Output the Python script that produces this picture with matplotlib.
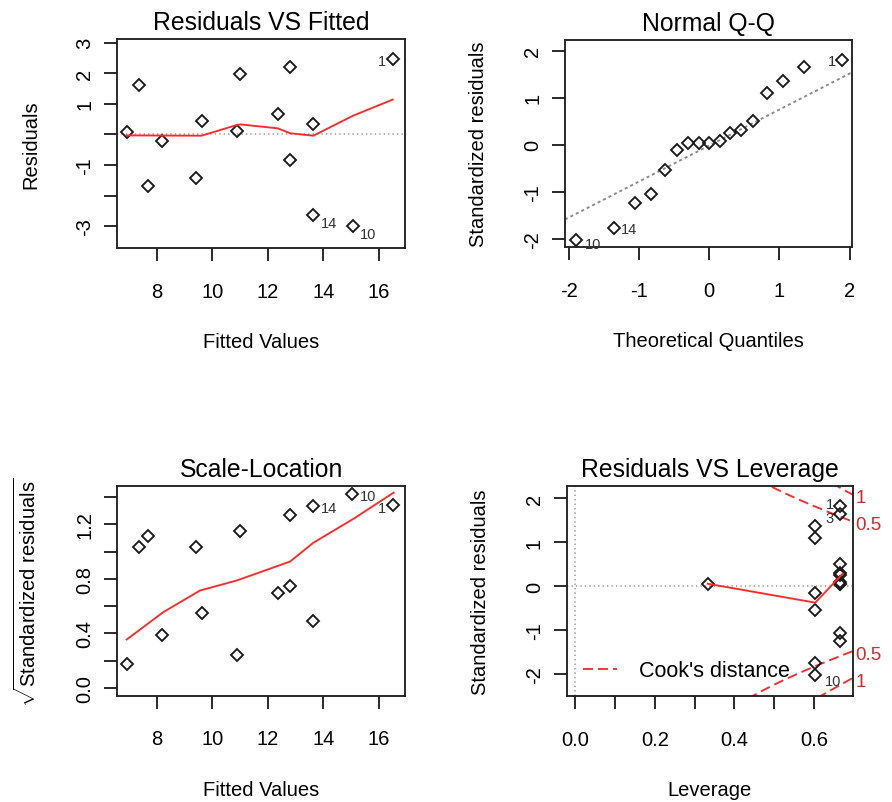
import numpy as np
import matplotlib
matplotlib.use('Agg')
import matplotlib.pyplot as plt
from matplotlib.lines import Line2D

plt.rcParams['font.family'] = ['Liberation Sans', 'DejaVu Sans']
plt.rcParams['mathtext.fontset'] = 'custom'
plt.rcParams['mathtext.rm'] = 'Liberation Sans'
plt.rcParams['mathtext.it'] = 'Liberation Sans:italic'
plt.rcParams['mathtext.bf'] = 'Liberation Sans:bold'
plt.rcParams['lines.scale_dashes'] = False

# ---------------- data ----------------
# Residuals vs Fitted
rvf_fitted = [6.91, 7.36, 7.69, 8.18, 9.41, 9.61, 10.88, 11.00, 12.36, 12.80, 12.80, 13.64, 13.64, 15.06, 16.50]
rvf_resid = [0.07, 1.62, -1.67, -0.20, -1.41, 0.44, 0.12, 1.98, 0.66, 2.20, -0.83, 0.34, -2.63, -3.00, 2.47]
rvf_ids = ['', '', '', '', '', '', '', '', '', '', '', '', '14', '10', '1']
rvf_smooth_x = [6.91, 9.61, 10.88, 11.00, 12.36, 12.80, 13.64, 15.06, 16.50]
rvf_smooth_y = [-0.03, -0.04, 0.31, 0.33, 0.20, 0.04, -0.04, 0.61, 1.14]

# Normal Q-Q
qq_theoretical = [-1.89, -1.35, -1.05, -0.82, -0.63, -0.46, -0.30, -0.15, 0.00,
                  0.15, 0.30, 0.46, 0.63, 0.82, 1.05, 1.35, 1.89]
qq_sample = [-2.01, -1.77, -1.23, -1.04, -0.53, -0.11, 0.05, 0.05, 0.05,
             0.09, 0.26, 0.32, 0.50, 1.09, 1.36, 1.65, 1.81]
qq_ids = ['10', '14'] + [''] * 14 + ['1']

# Scale-Location
sl_fitted = [6.91, 7.36, 7.69, 8.18, 9.41, 9.61, 10.88, 11.00, 12.36, 12.80, 12.80, 13.64, 13.64, 15.03, 16.50]
sl_sqrt_std = [0.176, 1.03, 1.114, 0.389, 1.03, 0.546, 0.244, 1.15, 0.698, 0.747, 1.27, 0.494, 1.331, 1.424, 1.344]
sl_ids = [''] * 12 + ['14', '10', '1']
sl_smooth_x = [6.91, 8.23, 9.55, 10.88, 12.80, 13.64, 15.09, 16.53]
sl_smooth_y = [0.355, 0.556, 0.714, 0.788, 0.927, 1.065, 1.241, 1.432]

# Residuals vs Leverage
lev_h = [0.333, 0.603, 0.603, 0.603, 0.603, 0.603, 0.603,
         0.665, 0.665, 0.665, 0.665, 0.665, 0.665, 0.665, 0.665, 0.665, 0.665]
lev_std = [0.06, 1.37, 1.11, -0.14, -0.53, -1.75, -2.02,
           1.82, 1.64, 0.50, 0.31, 0.26, 0.09, 0.06, 0.05, -1.07, -1.24]
lev_ids = ['', '', '', '', '', '', '10', '1', '3'] + [''] * 8
lev_smooth_x = [0.333, 0.603, 0.672]
lev_smooth_y = [0.06, -0.37, 0.29]
n_params = 10
cook_levels = [0.5, 1.0]

# ---------------- styling ----------------
W, H = 892, 803
fig = plt.figure(figsize=(W / 100, H / 100), dpi=100)

def rect(l, t, r, b):
    return [l / W, 1 - b / H, (r - l) / W, (b - t) / H]

SP = '#222222'
RED = '#ff2a2a'
REDTXT = '#d42a2a'
GREY = '#a8a8a8'
FS = 14.5
TFS = 17.8
IDFS = 10.5
LW_RED = 1.35

def style(ax, box):
    for s in ax.spines.values():
        s.set_linewidth(1.35)
        s.set_color(SP)
    ax.tick_params(axis='both', direction='out', length=9.5, width=1.35,
                   color=SP, labelsize=FS, labelcolor='black')
    ax.tick_params(axis='x', pad=14.5)
    ax.tick_params(axis='y', pad=7.0, labelrotation=90)
    for lbl in ax.get_yticklabels():
        lbl.set_va('center')

def labels(ax, box, title, xlabel, ylabel):
    l, t, r, b = box
    w, h = r - l, b - t
    ax.text(0.5, 1 + 10 / h, title, transform=ax.transAxes, ha='center',
            va='baseline', fontsize=TFS)
    ax.set_xlabel(xlabel, fontsize=FS, va='baseline')
    ax.xaxis.set_label_coords(0.5, -99 / h)
    ax.set_ylabel(ylabel, fontsize=FS, va='baseline', rotation=90)
    ax.yaxis.set_label_coords(-81 / w, 0.5)

def points(ax, x, y):
    ax.plot(x, y, linestyle='none', marker='D', markersize=5.8,
            markerfacecolor='none', markeredgecolor='#1a1a1a', markeredgewidth=1.35,
            zorder=3)

def ids(ax, x, y, names, offsets):
    for xi, yi, nm in zip(x, y, names):
        if nm and nm in offsets:
            dx, dy, ha = offsets[nm]
            ax.annotate(nm, (xi, yi), xytext=(dx, dy), textcoords='offset pixels',
                        ha=ha, va='center', fontsize=IDFS, color='#333333', zorder=4)

# ---- Panel 1: Residuals vs Fitted
b1 = (117.3, 40, 405, 249.3)
ax1 = fig.add_axes(rect(*b1))
points(ax1, rvf_fitted, rvf_resid)
ax1.axhline(0, color=GREY, lw=1.3, linestyle=(0, (1.0, 2.2)), zorder=2)
ax1.plot(rvf_smooth_x, rvf_smooth_y, color=RED, lw=LW_RED, zorder=4)
ax1.set_xlim(6.57, 16.94)
ax1.set_ylim(-3.72, 3.12)
ax1.set_xticks([8, 10, 12, 14, 16])
ax1.set_xticklabels(['8', '10', '12', '14', '16'])
ax1.set_yticks([-3, -2, -1, 0, 1, 2, 3])
ax1.set_yticklabels(['-3', '', '-1', '', '1', '2', '3'])
ids(ax1, rvf_fitted, rvf_resid, rvf_ids,
    {'14': (7, -8, 'left'), '10': (7, -8, 'left'), '1': (-7, -2, 'right')})
style(ax1, b1)
labels(ax1, b1, 'Residuals VS Fitted', 'Fitted Values', 'Residuals')

# ---- Panel 2: Normal Q-Q
b2 = (565, 40.7, 851.7, 248.3)
ax2 = fig.add_axes(rect(*b2))
points(ax2, qq_theoretical, qq_sample)
q_s = np.quantile(qq_sample, [0.25, 0.75])
q_t = np.array([-0.6745, 0.6745])
slope = (q_s[1] - q_s[0]) / (q_t[1] - q_t[0])
icpt = q_s[0] - slope * q_t[0]
ax2.axline((0, icpt), slope=slope, color='#8c8c8c', lw=1.4,
           linestyle=(0, (2.2, 2.2)), zorder=2)
ax2.set_xlim(-2.05, 2.03)
ax2.set_ylim(-2.17, 2.23)
ax2.set_xticks([-2, -1, 0, 1, 2])
ax2.set_xticklabels(['-2', '-1', '0', '1', '2'])
ax2.set_yticks([-2, -1, 0, 1, 2])
ax2.set_yticklabels(['-2', '-1', '0', '1', '2'])
ids(ax2, qq_theoretical, qq_sample, qq_ids,
    {'10': (9, -4, 'left'), '14': (7, -1, 'left'), '1': (-6, -1, 'right')})
style(ax2, b2)
labels(ax2, b2, 'Normal Q-Q', 'Theoretical Quantiles', 'Standardized residuals')

# ---- Panel 3: Scale-Location
b3 = (117.3, 486.7, 405, 696.7)
ax3 = fig.add_axes(rect(*b3))
points(ax3, sl_fitted, sl_sqrt_std)
ax3.plot(sl_smooth_x, sl_smooth_y, color=RED, lw=LW_RED, zorder=4)
ax3.set_xlim(6.57, 16.94)
ax3.set_ylim(-0.057, 1.483)
ax3.set_xticks([8, 10, 12, 14, 16])
ax3.set_xticklabels(['8', '10', '12', '14', '16'])
ax3.set_yticks([0.0, 0.2, 0.4, 0.6, 0.8, 1.0, 1.2, 1.4])
ax3.set_yticklabels(['0.0', '', '0.4', '', '0.8', '', '1.2', ''])
ids(ax3, sl_fitted, sl_sqrt_std, sl_ids,
    {'14': (7, -2, 'left'), '10': (8, -2, 'left'), '1': (-7, -3, 'right')})
style(ax3, b3)
labels(ax3, b3, 'Scale-Location', 'Fitted Values',
       r'$\sqrt{\mathrm{Standardized\ residuals}}$')

# ---- Panel 4: Residuals vs Leverage
b4 = (566.7, 486.7, 852.7, 697.3)
ax4 = fig.add_axes(rect(*b4))
xlo, xhi = -0.021, 0.697
ax4.set_xlim(xlo, xhi)
ax4.set_ylim(-2.50, 2.29)
ax4.axhline(0, color=GREY, lw=1.3, linestyle=(0, (1.0, 2.2)), zorder=1)
ax4.axvline(0, color=GREY, lw=1.3, linestyle=(0, (1.0, 2.2)), zorder=1)
points(ax4, lev_h, lev_std)
ax4.plot(lev_smooth_x, lev_smooth_y, color=RED, lw=LW_RED, zorder=4)
hh = np.linspace(0.01, xhi, 200)
for lv in cook_levels:
    rr = np.sqrt(lv * n_params * (1 - hh) / hh)
    ax4.plot(hh, rr, color=RED, lw=LW_RED, linestyle=(0, (7.2, 3.6)), zorder=2)
    ax4.plot(hh, -rr, color=RED, lw=LW_RED, linestyle=(0, (7.2, 3.6)), zorder=2)
    ry = np.sqrt(lv * n_params * (1 - xhi) / xhi)
    for sgn in (1, -1):
        ax4.annotate('%g' % lv, (1, sgn * ry), xycoords=('axes fraction', 'data'),
                     xytext=(3, -3), textcoords='offset pixels', ha='left', va='center',
                     fontsize=13.5, color=REDTXT, annotation_clip=False)
ax4.set_xticks([0.0, 0.1, 0.2, 0.3, 0.4, 0.5, 0.6])
ax4.set_xticklabels(['0.0', '', '0.2', '', '0.4', '', '0.6'])
ax4.set_yticks([-2, -1, 0, 1, 2])
ax4.set_yticklabels(['-2', '-1', '0', '1', '2'])
ids(ax4, lev_h, lev_std, lev_ids,
    {'1': (-6, 2, 'right'), '3': (-6, -4, 'right'), '10': (10, -6, 'left')})
leg_handle = Line2D([], [], color=RED, lw=LW_RED, linestyle=(0, (7.2, 3.6)))
ax4.legend([leg_handle], ["Cook's distance"], loc='center left',
           bbox_to_anchor=((583 - 566.7) / 286, (697.3 - 671.7) / 210.6),
           frameon=False, fontsize=15.5, handlelength=1.6, handletextpad=1.0,
           borderpad=0, borderaxespad=0)
style(ax4, b4)
labels(ax4, b4, 'Residuals VS Leverage', 'Leverage', 'Standardized residuals')

fig.savefig('out.png', dpi=100)
